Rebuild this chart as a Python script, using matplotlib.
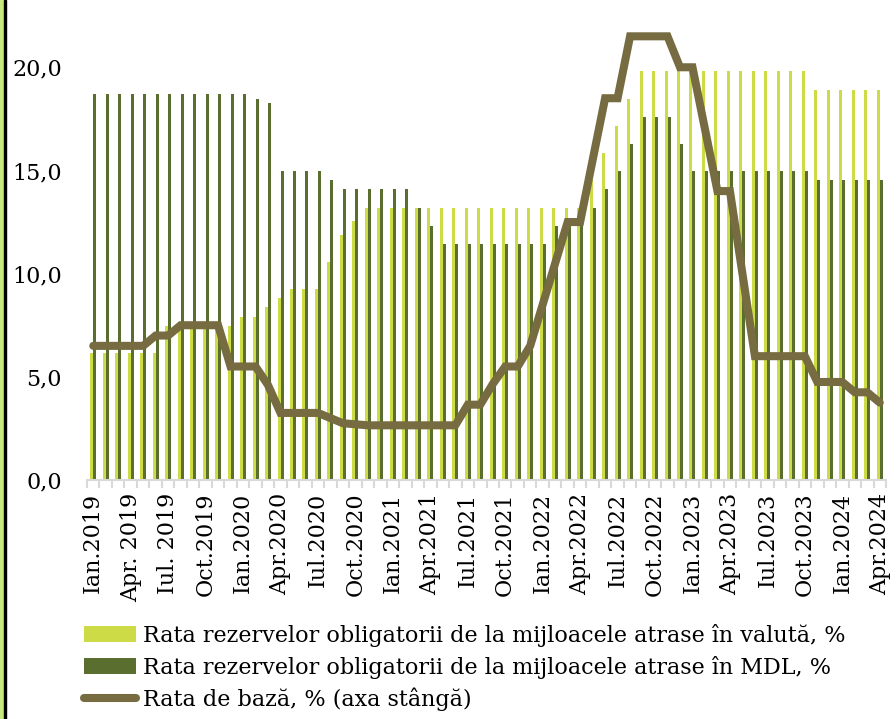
import matplotlib
matplotlib.use("Agg")
import matplotlib.pyplot as plt
from matplotlib.patches import Rectangle
from matplotlib.ticker import FuncFormatter

plt.rcParams['font.family'] = ['DejaVu Serif']

# date lunare: Ian.2019 - Apr.2024 (64 luni)
rata_valuta = ([14] * 6 + [17] * 6 + [18, 18, 19, 20] + [21] * 3 + [24, 27, 28.5]
               + [30] * 18 + [33, 36, 39, 42] + [45] * 14 + [43] * 6)
rata_mdl = ([42.5] * 13 + [42, 41.5] + [34] * 4 + [33] + [32] * 6 + [30, 28]
            + [26] * 9 + [28] * 3 + [30, 32, 34, 37] + [40] * 3 + [37]
            + [34] * 10 + [33] * 6)
rata_baza = ([6.5] * 5 + [7.0] * 2 + [7.5] * 4 + [5.5] * 3 + [4.6] + [3.25] * 4
             + [3.0, 2.75, 2.7] + [2.65] * 8 + [3.65] * 2 + [4.65] + [5.5] * 2
             + [6.5, 8.5, 10.5, 12.5, 12.5, 15.5, 18.5, 18.5] + [21.5] * 4
             + [20.0, 20.0, 17.0, 14.0, 14.0, 10.0] + [6.0] * 5 + [4.75] * 3
             + [4.25] * 2 + [3.75])
etichete = ["Ian.2019", "Apr. 2019", "Iul. 2019", "Oct.2019",
            "Ian.2020", "Apr.2020", "Iul.2020", "Oct.2020",
            "Ian.2021", "Apr.2021", "Iul.2021", "Oct.2021",
            "Ian.2022", "Apr.2022", "Iul.2022", "Oct.2022",
            "Ian.2023", "Apr.2023", "Iul.2023", "Oct.2023",
            "Ian.2024", "Apr.2024"]

n = len(rata_baza)
x = list(range(n))
c_light = '#cddb46'
c_dark = '#5a6e2f'
c_line = '#766b41'

fig = plt.figure(figsize=(8.96, 7.19), dpi=100)
ax = fig.add_axes([87 / 896, 1 - 480 / 719, 799 / 896, 454 / 719])
ax2 = ax.twinx()

# bare pe axa ascunsa din dreapta
w = 0.24
b1 = ax2.bar([i - w / 2 for i in x], rata_valuta, width=w, color=c_light,
             label='Rata rezervelor obligatorii de la mijloacele atrase în valută, %')
b2 = ax2.bar([i + w / 2 for i in x], rata_mdl, width=w, color=c_dark,
             label='Rata rezervelor obligatorii de la mijloacele atrase în MDL, %')
ax2.set_ylim(0, 50)
ax2.set_yticks([])
for s in ax2.spines.values():
    s.set_visible(False)

# rata de baza pe axa stanga
l1, = ax.plot(x, rata_baza, color=c_line, lw=5.8, solid_joinstyle='miter',
              solid_capstyle='round', label='Rata de bază, % (axa stângă)')
ax.set_zorder(ax2.get_zorder() + 1)
ax.patch.set_visible(False)

ax.set_ylim(0, 22)
ax.set_xlim(-0.5, n - 0.5)
ax.set_yticks([0, 5, 10, 15, 20])
ax.yaxis.set_major_formatter(FuncFormatter(lambda v, p: f"{v:.1f}".replace('.', ',')))
ax.tick_params(axis='y', length=0, pad=18, labelsize=16)

ax.set_xticks(range(0, n, 3))
ax.set_xticklabels(etichete, rotation=90, fontsize=16)
ax.set_xticks([i - 0.5 for i in range(n + 1)], minor=True)
ax.tick_params(axis='x', which='major', length=0, pad=9)
ax.tick_params(axis='x', which='minor', length=6, width=1.5, color='#d9d9d9')
for k in ['top', 'right', 'left']:
    ax.spines[k].set_visible(False)
ax.spines['bottom'].set_color('#d9d9d9')
ax.spines['bottom'].set_linewidth(1.5)

fig.legend(handles=[b1, b2, l1], loc='upper left', bbox_to_anchor=(84 / 896, 1 - 624 / 719),
           frameon=False, fontsize=16, handlelength=2.35, handletextpad=0.3,
           labelspacing=0.4, borderaxespad=0, borderpad=0)

# marginea din stanga
fig.patches.append(Rectangle((0, 0), 4 / 896, 1, transform=fig.transFigure,
                             color='#c6ea7c', zorder=0))
fig.patches.append(Rectangle((4 / 896, 0), 2 / 896, 1, transform=fig.transFigure,
                             color='black', zorder=0))

fig.savefig('out.png', dpi=100)
